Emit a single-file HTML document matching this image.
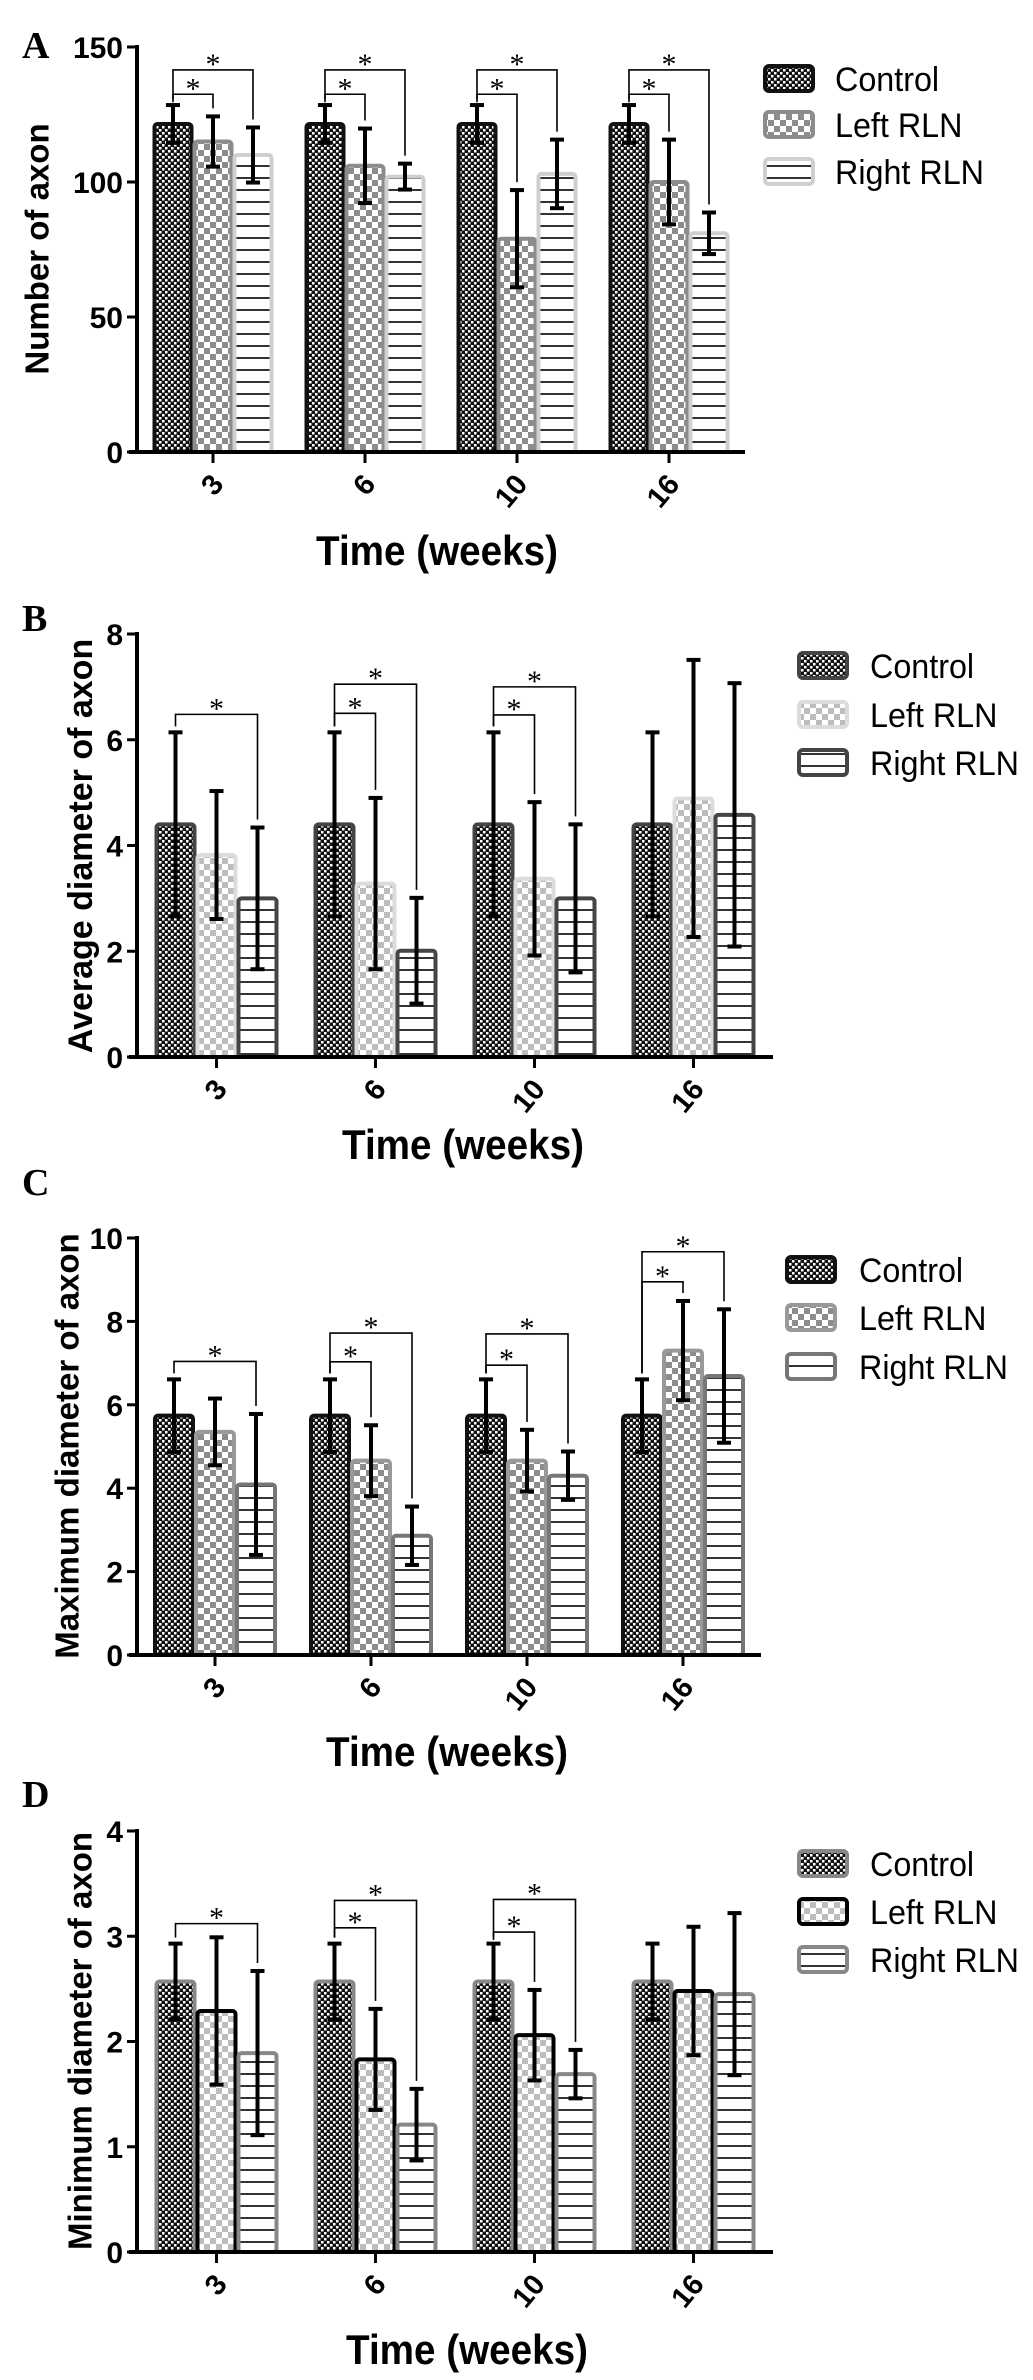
<!DOCTYPE html>
<html><head><meta charset="utf-8"><style>
html,body{margin:0;padding:0;background:#fff;}
svg{display:block;}
</style></head>
<body>
<svg id="fig" width="1033" height="2380" viewBox="0 0 1033 2380" xmlns="http://www.w3.org/2000/svg" font-family="Liberation Sans, sans-serif">
<defs>
<pattern id="chkDark" width="6" height="6" patternUnits="userSpaceOnUse"><rect width="6" height="6" fill="#111"/><rect x="0" y="0" width="2.5" height="2.5" fill="#fff"/><rect x="3" y="3" width="2.5" height="2.5" fill="#fff"/></pattern>
<pattern id="chkGray" width="12" height="12" patternUnits="userSpaceOnUse"><rect width="12" height="12" fill="#fff"/><rect x="0" y="0" width="6" height="6" fill="#8c8c8c"/><rect x="6" y="6" width="6" height="6" fill="#8c8c8c"/></pattern>
<pattern id="chkLight" width="12" height="12" patternUnits="userSpaceOnUse"><rect width="12" height="12" fill="#fff"/><rect x="0" y="0" width="6" height="6" fill="#bdbdbd"/><rect x="6" y="6" width="6" height="6" fill="#bdbdbd"/></pattern>
<pattern id="lines" width="12" height="12" patternUnits="userSpaceOnUse"><rect width="12" height="12" fill="#fff"/><rect x="0" y="9" width="12" height="2" fill="#333"/></pattern>
</defs>
</svg>
<script>
var categories = ["3","6","10","16"];
var seriesNames = ["Control","Left RLN","Right RLN"];

var aCtrl = [121.5,121.5,121.5,121.5];
var aCtrlSd = [7,7,7,7];
var aLeft = [115,106,79,100];
var aLeftSd = [9.3,13.8,18,15.7];
var aRight = [110,102,103,81];
var aRightSd = [10.2,4.8,12.7,7.7];
var aTicks = [0,50,100,150];
var aBrackets = [[0,1,132.5],[0,2,141.5],[1,1,132.5],[1,2,141.5],[2,1,132.5],[2,2,141.5],[3,1,132.5],[3,2,141.5]];

var bCtrl = [4.40,4.40,4.40,4.40];
var bCtrlSd = [1.74,1.74,1.74,1.74];
var bLeft = [3.82,3.28,3.37,4.89];
var bLeftSd = [1.21,1.62,1.45,2.62];
var bRight = [3.0,2.01,3.0,4.58];
var bRightSd = [1.34,1.0,1.4,2.49];
var bTicks = [0,2,4,6,8];
var bBrackets = [[0,2,6.48],[1,1,6.5],[1,2,7.05],[2,1,6.47],[2,2,7.0]];

var cCtrl = [5.74,5.74,5.74,5.74];
var cCtrlSd = [0.87,0.87,0.87,0.87];
var cLeft = [5.35,4.66,4.66,7.3];
var cLeftSd = [0.8,0.85,0.74,1.19];
var cRight = [4.09,2.86,4.3,6.69];
var cRightSd = [1.69,0.7,0.58,1.6];
var cTicks = [0,2,4,6,8,10];
var cBrackets = [[0,2,7.04],[1,1,7.03],[1,2,7.72],[2,1,6.95],[2,2,7.7],[3,1,8.95],[3,2,9.67]];

var dCtrl = [2.57,2.57,2.57,2.57];
var dCtrlSd = [0.36,0.36,0.36,0.36];
var dLeft = [2.29,1.83,2.06,2.48];
var dLeftSd = [0.7,0.48,0.43,0.61];
var dRight = [1.89,1.21,1.69,2.45];
var dRightSd = [0.78,0.34,0.23,0.77];
var dTicks = [0,1,2,3,4];
var dBrackets = [[0,2,3.12],[1,1,3.08],[1,2,3.34],[2,1,3.04],[2,2,3.35]];

var NS = "http://www.w3.org/2000/svg";
var svg = document.getElementById("fig");
function mk(tag, attrs, parent){
  var e = document.createElementNS(NS, tag);
  for (var k in attrs) e.setAttribute(k, attrs[k]);
  (parent || svg).appendChild(e);
  return e;
}

var panels = [
 {id:"a", letter:"A", letterY:58, y0:452, yTop:47, max:150, band:152, ticks:aTicks, ytitle:"Number of axon", ytX:40, ytY:249, ytSize:33, xtX:437, xtY:550,
  vals:[aCtrl,aLeft,aRight], sds:[aCtrlSd,aLeftSd,aRightSd], brackets:aBrackets, pitch:40, bw:37,
  fills:["url(#chkDark)","url(#chkGray)","url(#lines)"], strokes:["#111","#8c8c8c","#cfcfcf"],
  legX:765, legTops:[66,112,159], legText:835},
 {id:"b", letter:"B", letterY:631, y0:1057, yTop:634, max:8, band:159, ticks:bTicks, ytitle:"Average diameter of axon", ytX:83, ytY:846, ytSize:34, xtX:463, xtY:1144,
  vals:[bCtrl,bLeft,bRight], sds:[bCtrlSd,bLeftSd,bRightSd], brackets:bBrackets, pitch:41, bw:38,
  fills:["url(#chkDark)","url(#chkLight)","url(#lines)"], strokes:["#444","#dcdcdc","#444"],
  legX:799, legTops:[653,702,750], legText:870},
 {id:"c", letter:"C", letterY:1195, y0:1655, yTop:1238, max:10, band:156, ticks:cTicks, ytitle:"Maximum diameter of axon", ytX:70, ytY:1446, ytSize:33, xtX:447, xtY:1751,
  vals:[cCtrl,cLeft,cRight], sds:[cCtrlSd,cLeftSd,cRightSd], brackets:cBrackets, pitch:41, bw:38,
  fills:["url(#chkDark)","url(#chkGray)","url(#lines)"], strokes:["#111","#999","#777"],
  legX:787, legTops:[1257,1305,1354], legText:859},
 {id:"d", letter:"D", letterY:1807, y0:2252, yTop:1831, max:4, band:159, ticks:dTicks, ytitle:"Minimum diameter of axon", ytX:83, ytY:2041, ytSize:33, xtX:467, xtY:2349,
  vals:[dCtrl,dLeft,dRight], sds:[dCtrlSd,dLeftSd,dRightSd], brackets:dBrackets, pitch:41, bw:38,
  fills:["url(#chkDark)","url(#chkLight)","url(#lines)"], strokes:["#888","#000","#888"],
  legX:799, legTops:[1851,1899,1947], legText:870}
];

var X0 = 137;
panels.forEach(function(p){
  var g = mk("g", {});
  
  
  function ys(v){ return p.y0 - v / p.max * (p.y0 - p.yTop); }
  function xs(i){ return X0 + (i + 0.5) * p.band; }
  function bx(i, s){ return xs(i) + (s - 1) * p.pitch; }

  var lt = mk("text", {x:22, y:p.letterY, style:"font-family:'Liberation Serif',serif;font-weight:bold;font-size:38px", fill:"#000"}, g);
  lt.textContent = p.letter;
  
  

  for (var s = 0; s < 3; s++){
    for (var i = 0; i < categories.length; i++){
      var v = p.vals[s][i];
      var r = mk("rect", {x:bx(i,s) - p.bw/2, y:ys(v), width:p.bw, height:p.y0 - ys(v), rx:3, fill:p.fills[s], stroke:p.strokes[s], "stroke-width":4}, g);
      
      
    }
  }
  for (var s = 0; s < 3; s++){
    for (var i = 0; i < categories.length; i++){
      var v = p.vals[s][i], sd = p.sds[s][i], cx = bx(i,s);
      var eg = mk("g", {stroke:"#000", "stroke-width":4}, g);
      
      
      mk("line", {x1:cx, x2:cx, y1:ys(v+sd), y2:ys(v-sd)}, eg);
      mk("line", {x1:cx-7, x2:cx+7, y1:ys(v+sd), y2:ys(v+sd)}, eg);
      mk("line", {x1:cx-7, x2:cx+7, y1:ys(v-sd), y2:ys(v-sd)}, eg);
    }
  }
  p.brackets.forEach(function(b){
    var i = b[0], s = b[1], lvl = ys(b[2]);
    var xl = bx(i,0), xr = bx(i,s);
    var ctrlTop = ys(p.vals[0][i] + p.sds[0][i]) - 6;
    var tgtTop = ys(p.vals[s][i] + p.sds[s][i]) - 8;
    var pl = mk("polyline", {points: xl+","+Math.max(ctrlTop, lvl+8)+" "+xl+","+lvl+" "+xr+","+lvl+" "+xr+","+tgtTop, fill:"none", stroke:"#000", "stroke-width":1.6}, g);
    
    
    var st = mk("text", {x:(xl+xr)/2, y:lvl+4, "text-anchor":"middle", style:"font-family:'Liberation Serif',serif;font-size:30px", fill:"#000"}, g);
    st.textContent = "*";
    
    
  });
  var xEnd = X0 + 4 * p.band;
  var ya = mk("line", {x1:X0, x2:X0, y1:p.yTop-2, y2:p.y0+2, stroke:"#000", "stroke-width":4}, g);
  
  
  var xa = mk("line", {x1:X0-8, x2:xEnd, y1:p.y0, y2:p.y0, stroke:"#000", "stroke-width":4}, g);
  
  
  p.ticks.forEach(function(t){
    var tl = mk("line", {x1:X0-10, x2:X0, y1:ys(t), y2:ys(t), stroke:"#000", "stroke-width":3}, g);
    
    
    var tx = mk("text", {x:X0-14, y:ys(t)+11, "text-anchor":"end", "font-size":30, "font-weight":"bold", fill:"#000"}, g);
    tx.textContent = t;
    
    
  });
  categories.forEach(function(c, i){
    var tl = mk("line", {x1:xs(i), x2:xs(i), y1:p.y0, y2:p.y0+11, stroke:"#000", "stroke-width":3}, g);
    
    
    var tx = mk("text", {transform:"translate("+(xs(i)+6)+","+(p.y0+28)+") rotate(-50)", "text-anchor":"end", "dominant-baseline":"middle", "font-size":29, "font-weight":"bold", fill:"#000"}, g);
    tx.textContent = c;
    
    
  });
  var yt = mk("text", {transform:"translate("+p.ytX+","+p.ytY+") rotate(-90)", "text-anchor":"middle", "dominant-baseline":"middle", "font-size":p.ytSize, "font-weight":"bold", fill:"#000"}, g);
  yt.textContent = p.ytitle;
  
  
  var xt = mk("text", {transform:"translate("+p.xtX+","+(p.xtY+15)+") scale(0.92,1)", "text-anchor":"middle", "font-size":42, "font-weight":"bold", fill:"#000"}, g);
  xt.textContent = "Time (weeks)";
  
  
  for (var s = 0; s < 3; s++){
    var lg = mk("g", {}, g);
    
    
    mk("rect", {x:p.legX, y:p.legTops[s], width:48, height:25, rx:4, fill:p.fills[s], stroke:p.strokes[s], "stroke-width":4}, lg);
    var ltx = mk("text", {transform:"translate("+p.legText+","+(p.legTops[s]+25)+") scale(0.95,1)", "font-size":34, fill:"#000"}, lg);
    ltx.textContent = seriesNames[s];
  }
});
</script>
</body></html>
